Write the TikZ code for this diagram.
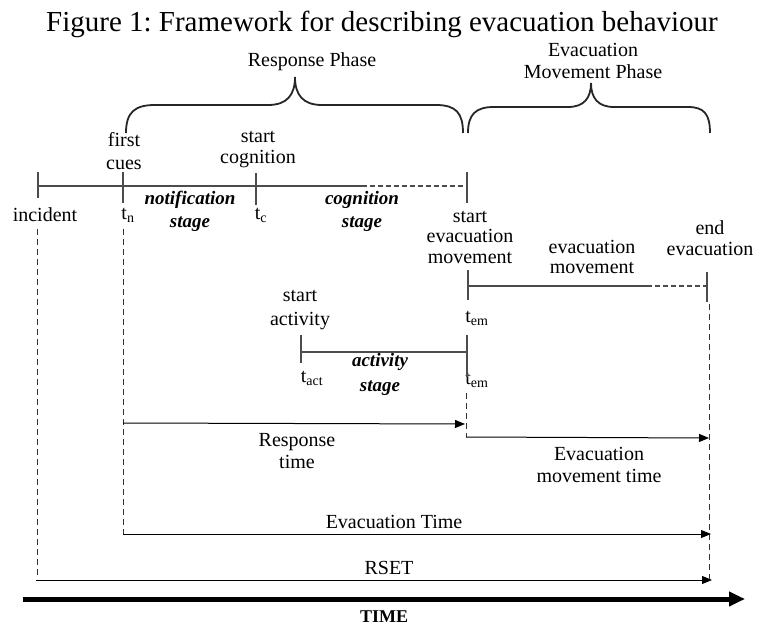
\documentclass[tikz,border=0pt]{standalone}
\usepackage{fontspec}
\setmainfont{Liberation Serif}
\usetikzlibrary{arrows.meta}
\frenchspacing
\begin{document}
\begin{tikzpicture}[x=1pt,y=-1pt,
  lbl/.style={font=\fontsize{20}{23}\selectfont, align=center, inner sep=0pt},
  ttl/.style={font=\fontsize{29}{32}\selectfont, inner sep=0pt},
  stg/.style={font=\fontsize{19}{23}\selectfont\bfseries\itshape, align=center, inner sep=0pt},
  tline/.style={line width=1.3pt, draw=black!70},
  dline/.style={line width=1.3pt, draw=black!70, dash pattern=on 5pt off 3pt},
  vdash/.style={line width=0.9pt, draw=black!80, dash pattern=on 6pt off 4pt},
  arr/.style={line width=1pt, draw=black, -{Triangle[length=10pt,width=8pt]}},
  bigarr/.style={line width=5pt, draw=black, -{Triangle[length=16pt,width=14pt]}},
  brace/.style={line width=1.8pt, draw=black!85}]
\useasboundingbox (0,0) rectangle (758,628);

% texts
\node[ttl] (title) at (382,24) {Figure 1: Framework for describing evacuation behaviour};
\node[lbl] (resp) at (312,62) {Response Phase};
\node[lbl, font=\fontsize{20}{22}\selectfont] (evph) at (593,61) {Evacuation\\Movement Phase};
\node[lbl] (first) at (124,151.5) {first\\cues};
\node[lbl, font=\fontsize{20}{21}\selectfont] (startcog) at (258,150) {start\\cognition};
\node[lbl] (incid) at (45,215) {incident};
\node[lbl] (tn) at (128,215) {t\textsubscript{n}};
\node[lbl] (tc) at (261,215) {t\textsubscript{c}};
\node[stg] (notif) at (190,211.5) {notification\\stage};
\node[stg] (cogst) at (362,211.5) {cognition\\stage};
\node[lbl, font=\fontsize{20}{20.5}\selectfont] (sem) at (470,237) {start\\evacuation\\movement};
\node[lbl, font=\fontsize{20}{20}\selectfont] (evm) at (592,257) {evacuation\\movement};
\node[lbl, font=\fontsize{20}{21}\selectfont] (endev) at (710,238) {end\\evacuation};
\node[lbl] (tem1) at (477,318) {t\textsubscript{em}};
\node[lbl, font=\fontsize{20}{24}\selectfont] (sact) at (300,310) {start\\activity};
\node[lbl] (tact) at (312,378) {t\textsubscript{act}};
\node[stg, font=\fontsize{19}{25}\selectfont\bfseries\itshape] (actst) at (380,374.5) {activity\\stage};
\node[lbl] (tem2) at (477,380) {t\textsubscript{em}};
\node[lbl, font=\fontsize{20}{22}\selectfont] (resptime) at (297,451) {Response\\time};
\node[lbl, font=\fontsize{20}{22}\selectfont] (evmt) at (599,465) {Evacuation\\movement time};
\node[lbl] (evt) at (394,522) {Evacuation Time};
\node[lbl] (rset) at (389,568) {RSET};
\node[lbl, font=\fontsize{18}{20}\selectfont\bfseries] (time) at (384,617) {TIME};

% braces
\draw[brace] (126,133) .. controls (126,112) and (135,105) .. (155,105) -- (268,105)
  .. controls (287,105) and (295,95) .. (295,77)
  .. controls (295,95) and (303,105) .. (322,105) -- (436,105)
  .. controls (456,105) and (463,113) .. (463,133);
\draw[brace] (468,133) .. controls (468,114) and (476,107) .. (494,107) -- (568,107)
  .. controls (584,107) and (591,98) .. (591,83)
  .. controls (591,98) and (598,107) .. (614,107) -- (688,107)
  .. controls (704,107) and (710,114) .. (710,133);

% main notification/cognition timeline
\coordinate (inc) at (38,186);
\coordinate (fc) at (123,186);
\coordinate (sc) at (256,186);
\coordinate (dsA) at (362,186);
\coordinate (sev) at (467,186);
\draw[tline] (inc) -- (dsA);
\draw[dline] (dsA) -- (sev);
\coordinate (incT) at (38,172); \coordinate (incB) at (38,198);
\coordinate (fcT) at (123,172); \coordinate (fcB) at (123,203);
\coordinate (scT) at (256,173); \coordinate (scB) at (256,205);
\coordinate (sevT) at (467,172); \coordinate (sevB) at (467,203);
\draw[tline] (incT) -- (incB);
\draw[tline] (fcT) -- (fcB);
\draw[tline] (scT) -- (scB);
\draw[tline] (sevT) -- (sevB);

% evacuation movement line
\coordinate (emL) at (468,286);
\coordinate (emM) at (647,286);
\coordinate (emR) at (707,286);
\draw[tline] (emL) -- (emM);
\draw[dline] (emM) -- (emR);
\coordinate (emLT) at (468,270); \coordinate (emLB) at (468,300);
\coordinate (emRT) at (707,272); \coordinate (emRB) at (707,302);
\draw[tline] (emLT) -- (emLB);
\draw[tline] (emRT) -- (emRB);

% activity line
\coordinate (acL) at (301,352);
\coordinate (acR) at (467,352);
\draw[tline] (acL) -- (acR);
\coordinate (acLT) at (301,335); \coordinate (acLB) at (301,363);
\coordinate (acRT) at (467,335); \coordinate (acRB) at (467,377);
\draw[tline] (acLT) -- (acLB);
\draw[tline] (acRT) -- (acRB);

% dashed verticals
\coordinate (dv1T) at (37,229); \coordinate (dv1B) at (37,579);
\coordinate (dv2T) at (123,229); \coordinate (dv2B) at (123,534);
\coordinate (dv3T) at (466,393); \coordinate (dv3B) at (466,437);
\coordinate (dv4T) at (709,304); \coordinate (dv4B) at (709,579);
\draw[vdash] (dv1T) -- (dv1B);
\draw[vdash] (dv2T) -- (dv2B);
\draw[vdash] (dv3T) -- (dv3B);
\draw[vdash] (dv4T) -- (dv4B);

% time arrows
\coordinate (rtS) at (123,423); \coordinate (rtE) at (465,424);
\draw[arr] (rtS) -- (rtE);
\coordinate (emtS) at (466,437); \coordinate (emtE) at (709,438);
\draw[arr] (emtS) -- (emtE);
\coordinate (etS) at (123,534); \coordinate (etE) at (711,534);
\draw[arr] (etS) -- (etE);
\coordinate (rsS) at (36,580); \coordinate (rsE) at (712,580);
\draw[arr] (rsS) -- (rsE);
\coordinate (tmS) at (23,599); \coordinate (tmE) at (745,599);
\draw[bigarr] (tmS) -- (tmE);
\end{tikzpicture}
\end{document}
